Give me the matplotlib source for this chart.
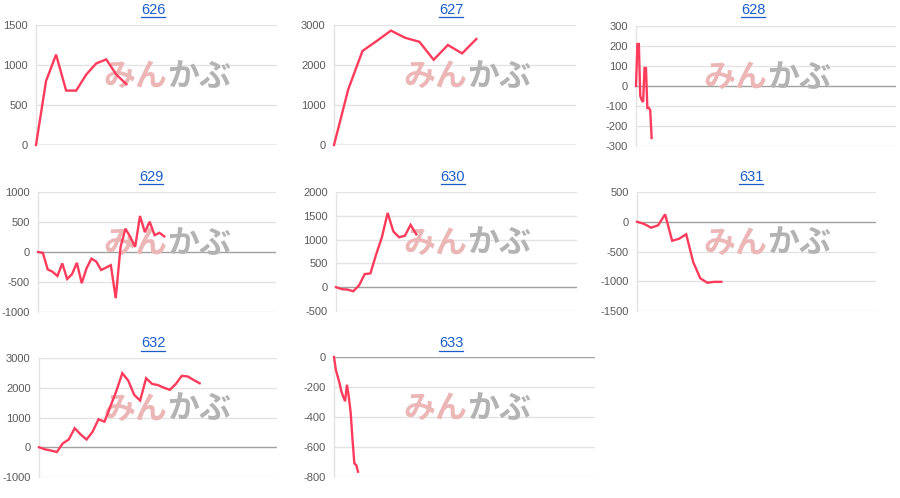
import matplotlib
matplotlib.use("Agg")
import matplotlib.pyplot as plt
from matplotlib.lines import Line2D
import numpy as np

plt.rcParams['font.family'] = ['Liberation Sans', 'Noto Sans CJK JP', 'DejaVu Sans']

# ---------------- data ----------------
titles = ["626", "627", "628", "629", "630", "631", "632", "633"]

s626 = [0, 800, 1130, 680, 680, 880, 1020, 1070, 880, 760]
s627 = [0, 1390, 2350, 2600, 2860, 2680, 2580, 2130, 2500, 2290, 2650]
s628 = [0, 210, 210, -50, -70, -80, 90, 90, -110, -110, -120, -260]
s629 = [0, -15, -290, -330, -400, -190, -450, -370, -180, -520, -270, -110, -160,
        -300, -260, -220, -770, 85, 390, 250, 85, 600, 330, 505, 280, 320, 260]
s630 = [0, -40, -50, -85, 35, 275, 290, 690, 1050, 1560, 1170, 1050, 1080, 1310, 1110]
s631 = [0, -35, -100, -60, 125, -320, -285, -210, -680, -950, -1025, -1010, -1010]
s632 = [0, -70, -110, -160, 130, 260, 640, 430, 260, 520, 940, 860, 1370, 1890,
        2490, 2240, 1760, 1570, 2320, 2130, 2090, 2000, 1930, 2130, 2400, 2380,
        2260, 2150]
s633 = [0, -85, -130, -175, -230, -265, -295, -185, -265, -370, -550, -710, -720, -765]

series = [s626, s627, s628, s629, s630, s631, s632, s633]
x_spans = [24, 17, 183, 49, 42, 34, 40, 141]
y_ticks = [
    [0, 500, 1000, 1500],
    [0, 1000, 2000, 3000],
    [-300, -200, -100, 0, 100, 200, 300],
    [-1000, -500, 0, 500, 1000],
    [-500, 0, 500, 1000, 1500, 2000],
    [-1500, -1000, -500, 0, 500],
    [-1000, 0, 1000, 2000, 3000],
    [-800, -600, -400, -200, 0],
]

# ---------------- layout (pixels) ----------------
W, H = 900, 498
# left, right, top, bottom
boxes = [
    (36, 277, 25, 145), (334, 576, 25, 145), (636, 896, 26, 146),
    (38, 276, 192, 312), (336, 577, 192, 311), (637, 876, 192, 311),
    (39, 277, 358, 477), (334, 595, 357, 477),
]
title_pos = [(153, 10), (451, 10), (753, 10),
             (151, 177), (453, 177), (751, 177),
             (153, 343), (451, 343)]
cells_x = [0, 300, 600, 0, 300, 600, 0, 300]

LINE = '#ff3b5c'
GRID = '#e3e3e3'
BASE = '#a0a0a0'
TICK = '#5a5a5a'
TITLE = '#1a5dc8'

fig = plt.figure(figsize=(W / 100, H / 100), dpi=100)

axes = []
for i, (l, r, t, b) in enumerate(boxes):
    ax = fig.add_axes([l / W, 1 - b / H, (r - l) / W, (b - t) / H])
    axes.append(ax)
    yt = y_ticks[i]
    vals = series[i]
    xs = np.arange(len(vals))
    ax.set_xlim(0, x_spans[i])
    ax.set_ylim(yt[0], yt[-1])
    ax.set_yticks(yt)
    ax.set_yticklabels([str(v) for v in yt])
    ax.set_xticks([])
    for v in yt:
        ax.axhline(v, color=BASE if v == 0 else GRID, lw=1.0,
                   zorder=0.8 if v == 0 else 0.5)
    for s in ['top', 'right', 'bottom']:
        ax.spines[s].set_visible(False)
    ax.spines['left'].set_color(GRID)
    ax.spines['left'].set_linewidth(1.0)
    ax.tick_params(axis='y', length=0, pad=6, labelsize=8, labelcolor=TICK)
    ax.plot(xs, vals, color=LINE, lw=1.7, zorder=3, solid_joinstyle='miter',
            clip_on=False)

    # watermark
    cx = cells_x[i] + 167
    cy = (t + b) / 2 - 8
    ax.text(cx / W, 1 - cy / H, "みん", transform=fig.transFigure, ha='right',
            va='center', fontsize=23, fontweight='bold', color='#ecb6b6',
            family=['Noto Sans CJK JP'], zorder=1, clip_on=False)
    ax.text(cx / W, 1 - cy / H, "かぶ", transform=fig.transFigure, ha='left',
            va='center', fontsize=23, fontweight='bold', color='#b3b3b3',
            family=['Noto Sans CJK JP'], zorder=1, clip_on=False)

# titles with underline
title_texts = []
for i, (tx, ty) in enumerate(title_pos):
    t = fig.text(tx / W, 1 - ty / H, titles[i], ha='center', va='center',
                 fontsize=10.5, color=TITLE)
    title_texts.append(t)

fig.canvas.draw()
renderer = fig.canvas.get_renderer()
for t in title_texts:
    bb = t.get_window_extent(renderer)
    y = bb.y0 - 0.5
    fig.add_artist(Line2D([bb.x0 / W, bb.x1 / W], [y / H, y / H],
                          transform=fig.transFigure, color=TITLE, lw=0.9))

fig.savefig("out.png", dpi=100)
